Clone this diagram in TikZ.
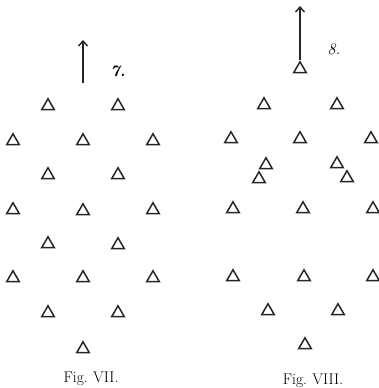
\documentclass[tikz,border=0pt]{standalone}
\usetikzlibrary{shapes.geometric,arrows.meta}
\begin{document}
\begin{tikzpicture}[x=1pt,y=-1pt,
  tri/.style={regular polygon,regular polygon sides=3,draw=black!85,line width=1.5pt,minimum size=14.5pt,inner sep=0pt},
  dirarrow/.style={-{Straight Barb[length=5pt,width=9pt]},line width=1.4pt,black!85},
  figlabel/.style={font=\itshape\fontsize{16}{18}\selectfont},
  caption/.style={font=\fontsize{15.5}{18}\selectfont,anchor=base}]
\useasboundingbox (0,0) rectangle (379,388);
% ---- Fig VII
\coordinate (a7b) at (83,83);
\coordinate (a7t) at (83,40);
\draw[dirarrow] (a7b) -- (a7t);
\node[figlabel] (l7) at (118,71) {\bfseries\itshape 7.};
\foreach \n/\x/\y in {r1a/48/106,r1b/118/106,
  r2a/13/141,r2b/83/141,r2c/153/141,
  r3a/48/175,r3b/118/175,
  r4a/13/210,r4b/83/211,r4c/153/210,
  r5a/48/244,r5b/118/245,
  r6a/13/278,r6b/83/278,r6c/153/278,
  r7a/48/313,r7b/118/313,
  r8a/83/349}
  \node[tri] (s\n) at (\x,\y) {};
\node[caption] (c7) at (91,382) {Fig.\hspace{0.35em}VII.};
% ---- Fig VIII
\coordinate (a8b) at (300,60);
\coordinate (a8t) at (300,6);
\draw[dirarrow] (a8b) -- (a8t);
\node[figlabel] (l8) at (334,49) {8.};
\foreach \n/\x/\y in {t0/300/69,
  t1a/264/105,t1b/337/105,
  t2a/231/139,t2b/300/139,t2c/371/139,
  t3a/266/165,t3b/337/164,t3c/259/179,t3d/347/178,
  t4a/233/209,t4b/303/209,t4c/373/209,
  t5a/233/277,t5b/304/277,t5c/373/277,
  t6a/268/311,t6b/338/311,
  t7a/305/345}
  \node[tri] (e\n) at (\x,\y) {};
\node[caption] (c8) at (313,384) {Fig.\hspace{0.35em}VIII.};
\end{tikzpicture}
\end{document}
